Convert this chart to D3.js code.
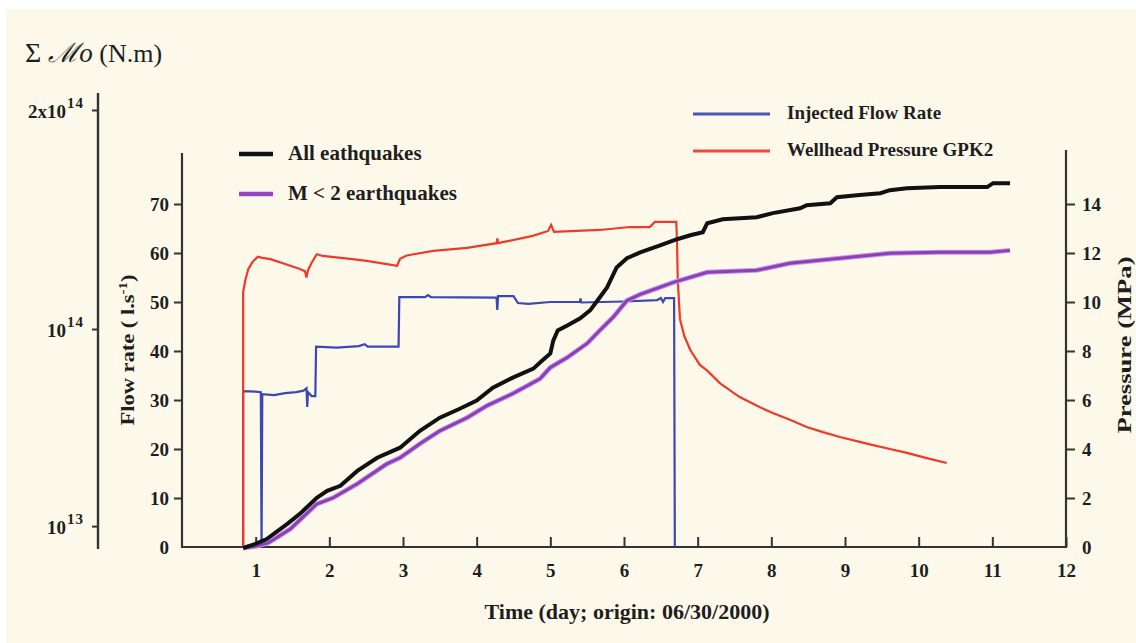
<!DOCTYPE html>
<html>
<head>
<meta charset="utf-8">
<script src="https://cdn.jsdelivr.net/npm/d3@7"></script>
<style>
body { margin: 0; background: #fff; }
svg text { font-family: "Liberation Serif", "Times New Roman", serif; fill: #1e1e1e; }
.tick text { font-weight: bold; font-size: 19px; }
</style>
</head>
<body>
<svg id="chart" width="1136" height="643"></svg>
<script>
// tick values
var dayTicks = [1, 2, 3, 4, 5, 6, 7, 8, 9, 10, 11, 12];
var flowTicks = [0, 10, 20, 30, 40, 50, 60, 70];
var pressureTicks = [0, 2, 4, 6, 8, 10, 12, 14];
var momentTicks = [2e14, 1e14, 1e13];
var momentTickBase = ["2x10", "10", "10"];
var momentTickExp = ["14", "14", "13"];

// injected flow rate [day, l/s]
var injectedFlow = [
  [0.83, 0], [0.83, 31.8], [1.0, 31.7], [1.07, 31.6], [1.08, 0], [1.09, 31.2], [1.25, 31.0],
  [1.4, 31.4], [1.55, 31.6], [1.65, 31.9], [1.69, 32.4], [1.70, 28.6], [1.71, 31.6], [1.76, 30.8],
  [1.81, 30.8], [1.82, 40.9], [2.1, 40.7], [2.4, 41.0], [2.48, 41.4], [2.52, 40.9], [2.94, 40.9],
  [2.95, 51.0], [3.3, 51.0], [3.34, 51.4], [3.38, 51.0], [4.27, 50.9], [4.28, 48.4], [4.29, 51.2],
  [4.5, 51.2], [4.56, 49.8], [4.7, 49.6], [5.0, 50.0], [5.4, 50.0], [5.41, 50.7], [5.42, 49.9],
  [6.0, 50.1], [6.45, 50.4], [6.5, 50.8], [6.53, 50.0], [6.56, 50.8], [6.68, 50.8], [6.69, 0]
];

// wellhead pressure GPK2 [day, MPa]
var wellheadPressure = [
  [0.83, 0], [0.83, 10.4], [0.86, 10.9], [0.9, 11.35], [0.96, 11.65], [1.03, 11.85], [1.09, 11.8],
  [1.2, 11.75], [1.4, 11.55], [1.6, 11.35], [1.67, 11.25], [1.69, 11.0], [1.71, 11.3], [1.76, 11.6],
  [1.83, 11.95], [1.91, 11.88], [2.28, 11.76], [2.51, 11.68], [2.92, 11.48], [2.96, 11.76],
  [3.05, 11.9], [3.41, 12.09], [3.87, 12.21], [4.27, 12.4], [4.28, 12.6], [4.29, 12.4], [4.76, 12.7],
  [4.97, 12.9], [5.01, 13.15], [5.05, 12.86], [5.67, 12.94], [6.08, 13.06], [6.35, 13.06],
  [6.42, 13.27], [6.71, 13.27], [6.72, 12.4], [6.73, 10.9], [6.76, 9.3], [6.82, 8.6], [6.9, 8.04],
  [7.03, 7.43], [7.13, 7.2], [7.3, 6.69], [7.57, 6.12], [7.84, 5.71], [8.02, 5.47], [8.26, 5.18],
  [8.48, 4.9], [8.7, 4.69], [8.93, 4.49], [9.2, 4.29], [9.38, 4.16], [9.61, 4.0], [9.84, 3.84],
  [10.11, 3.63], [10.38, 3.43]
];

// cumulated seismic moment, all earthquakes [day, N.m]
var allQuakes = [
  [0.83, 0], [0.99, 0.018e14], [1.15, 0.041e14], [1.43, 0.110e14], [1.6, 0.156e14], [1.83, 0.229e14],
  [1.97, 0.261e14], [2.15, 0.284e14], [2.38, 0.352e14], [2.65, 0.412e14], [2.96, 0.458e14],
  [3.23, 0.535e14], [3.5, 0.595e14], [3.77, 0.636e14], [4.0, 0.673e14], [4.22, 0.732e14],
  [4.49, 0.778e14], [4.77, 0.819e14], [4.86, 0.847e14], [5.0, 0.888e14], [5.04, 0.947e14],
  [5.1, 0.993e14], [5.23, 1.016e14], [5.4, 1.048e14], [5.54, 1.085e14], [5.67, 1.144e14],
  [5.77, 1.19e14], [5.9, 1.281e14], [6.04, 1.323e14], [6.22, 1.35e14], [6.49, 1.382e14],
  [6.72, 1.41e14], [6.9, 1.428e14], [7.07, 1.442e14], [7.13, 1.483e14], [7.34, 1.501e14],
  [7.8, 1.51e14], [8.02, 1.529e14], [8.39, 1.551e14], [8.48, 1.565e14], [8.8, 1.574e14],
  [8.89, 1.602e14], [9.16, 1.611e14], [9.48, 1.62e14], [9.61, 1.634e14], [9.84, 1.643e14],
  [10.29, 1.648e14], [10.93, 1.648e14], [11.01, 1.666e14], [11.24, 1.666e14]
];

// cumulated seismic moment, M < 2 earthquakes [day, N.m]
var smallQuakes = [
  [0.83, 0], [1.0, 0.008e14], [1.17, 0.023e14], [1.47, 0.087e14], [1.83, 0.201e14], [2.05, 0.229e14],
  [2.38, 0.293e14], [2.78, 0.384e14], [2.96, 0.412e14], [3.23, 0.476e14], [3.5, 0.535e14],
  [3.87, 0.595e14], [4.14, 0.65e14], [4.49, 0.705e14], [4.86, 0.773e14], [5.0, 0.824e14],
  [5.23, 0.87e14], [5.5, 0.934e14], [5.67, 0.993e14], [5.85, 1.053e14], [6.04, 1.13e14],
  [6.22, 1.158e14], [6.67, 1.213e14], [7.13, 1.259e14], [7.8, 1.268e14], [8.25, 1.3e14],
  [8.93, 1.323e14], [9.61, 1.346e14], [10.29, 1.35e14], [10.97, 1.35e14], [11.24, 1.359e14]
];

var svg = d3.select("#chart");
var axisColor = "#333";

// cream paper
svg.append("rect")
  .attr("x", 6).attr("y", 9)
  .attr("width", 1130).attr("height", 634)
  .attr("fill", "#fdf9ea");

// scales
var x = d3.scaleLinear().domain([0, 12]).range([182, 1066]);
var yFlow = d3.scaleLinear().domain([0, 70]).range([547, 204]);
var yPress = d3.scaleLinear().domain([0, 14]).range([547, 204]);
var yMo = d3.scaleLinear().domain([0, 2e14]).range([548, 110]);

// X axis
var xAxis = svg.append("g")
  .attr("transform", "translate(0,547)")
  .call(d3.axisBottom(x).tickValues(dayTicks).tickSizeInner(-10).tickSizeOuter(0).tickPadding(17));

// flow axis (left)
var flowAxis = svg.append("g")
  .attr("transform", "translate(182,0)")
  .call(d3.axisLeft(yFlow).tickValues(flowTicks).tickSize(8).tickPadding(5));

// pressure axis (right)
var pressAxis = svg.append("g")
  .attr("transform", "translate(1066,0)")
  .call(d3.axisRight(yPress).tickValues(pressureTicks).tickSize(9).tickPadding(7));

// moment axis (far left)
var moAxis = svg.append("g")
  .attr("transform", "translate(98,0)")
  .call(d3.axisLeft(yMo).tickValues(momentTicks).tickSize(6).tickFormat(""));

[xAxis, flowAxis, pressAxis, moAxis].forEach(function(g) {
  g.select(".domain").remove();
  g.selectAll(".tick line").attr("stroke", axisColor).attr("stroke-width", 2);
  g.selectAll(".tick text").attr("fill", "#1e1e1e");
});
flowAxis.selectAll(".tick").filter(function(d) { return d === 0; }).select("line").remove();
pressAxis.selectAll(".tick").filter(function(d) { return d === 0; }).select("line").remove();

// axis lines
svg.append("line").attr("x1", x(0)).attr("x2", x(12)).attr("y1", 547).attr("y2", 547)
  .attr("stroke", axisColor).attr("stroke-width", 2.2);
svg.append("line").attr("x1", 182).attr("x2", 182).attr("y1", 153).attr("y2", 548)
  .attr("stroke", axisColor).attr("stroke-width", 2.2);
svg.append("line").attr("x1", 1066).attr("x2", 1066).attr("y1", 150).attr("y2", 548)
  .attr("stroke", axisColor).attr("stroke-width", 2.2);
svg.append("line").attr("x1", 98).attr("x2", 98).attr("y1", 93).attr("y2", 549)
  .attr("stroke", axisColor).attr("stroke-width", 2.4);

// moment tick labels with exponent
momentTicks.forEach(function(v, i) {
  var t = svg.append("text")
    .attr("x", 84).attr("y", yMo(v) + 8)
    .attr("text-anchor", "end")
    .style("font-weight", "bold")
    .style("font-size", "19px");
  t.append("tspan").text(momentTickBase[i]);
  t.append("tspan").attr("dy", -10).attr("dx", 1).style("font-size", "15px")
    .style("letter-spacing", "1px").text(momentTickExp[i]);
});

// title
var title = svg.append("text").attr("x", 25).attr("y", 62).style("font-size", "28px");
title.append("tspan").text("Σ ");
title.append("tspan").style("font-style", "italic").style("font-family", "'DejaVu Serif', serif")
  .style("font-size", "27px").text("ℳ");
title.append("tspan").style("font-style", "italic").style("font-size", "27px").text("o");
title.append("tspan").style("font-size", "26px").text(" (N.m)");

// axis titles
svg.append("text")
  .attr("x", 627).attr("y", 619)
  .attr("text-anchor", "middle")
  .style("font-weight", "bold").style("font-size", "22px")
  .text("Time (day; origin: 06/30/2000)");

var flowLabel = svg.append("text")
  .attr("transform", "translate(134,350) rotate(-90) scale(1.25,1)")
  .attr("text-anchor", "middle")
  .style("font-weight", "bold").style("font-size", "18px");
flowLabel.append("tspan").text("Flow rate ( l.s");
flowLabel.append("tspan").attr("dy", -7).style("font-size", "12px").text("-1");
flowLabel.append("tspan").attr("dy", 7).text(")");

svg.append("text")
  .attr("transform", "translate(1131,345) rotate(-90) scale(1.4,1)")
  .attr("text-anchor", "middle")
  .style("font-weight", "bold").style("font-size", "19px")
  .text("Pressure (MPa)");

// series
var flowLine = d3.line().x(function(d) { return x(d[0]); }).y(function(d) { return yFlow(d[1]); });
var pressLine = d3.line().x(function(d) { return x(d[0]); }).y(function(d) { return yPress(d[1]); });
var moLine = d3.line().x(function(d) { return x(d[0]); }).y(function(d) { return yMo(d[1]); });

svg.append("path").datum(injectedFlow).attr("d", flowLine)
  .attr("fill", "none").attr("stroke", "#3c47b3").attr("stroke-width", 2.2);
svg.append("path").datum(wellheadPressure).attr("d", pressLine)
  .attr("fill", "none").attr("stroke", "#ee3a2a").attr("stroke-width", 2.2);
svg.append("path").datum(smallQuakes).attr("d", moLine)
  .attr("fill", "none").attr("stroke", "#c49ade").attr("stroke-width", 5);
svg.append("path").datum(smallQuakes).attr("d", moLine)
  .attr("fill", "none").attr("stroke", "#8e3dbb").attr("stroke-width", 3);
svg.append("path").datum(allQuakes).attr("d", moLine)
  .attr("fill", "none").attr("stroke", "#111").attr("stroke-width", 4);

// legends
var legendLeft = [
  { label: "All eathquakes", color: "#111", y: 154 },
  { label: "M < 2 earthquakes", color: "#9445c0", y: 194 }
];
legendLeft.forEach(function(d) {
  svg.append("line").attr("x1", 239).attr("x2", 273).attr("y1", d.y).attr("y2", d.y)
    .attr("stroke", d.color).attr("stroke-width", 4.5);
  svg.append("text").attr("x", 288).attr("y", d.y + 6)
    .style("font-weight", "bold").style("font-size", "21px").text(d.label);
});
var legendRight = [
  { label: "Injected Flow Rate", color: "#4a55b8", y: 114 },
  { label: "Wellhead Pressure GPK2", color: "#ee4a3a", y: 151 }
];
legendRight.forEach(function(d) {
  svg.append("line").attr("x1", 693).attr("x2", 770).attr("y1", d.y).attr("y2", d.y)
    .attr("stroke", d.color).attr("stroke-width", 3);
  svg.append("text").attr("x", 787).attr("y", d.y + 5)
    .style("font-weight", "bold").style("font-size", "19px").text(d.label);
});
</script>
</body>
</html>
